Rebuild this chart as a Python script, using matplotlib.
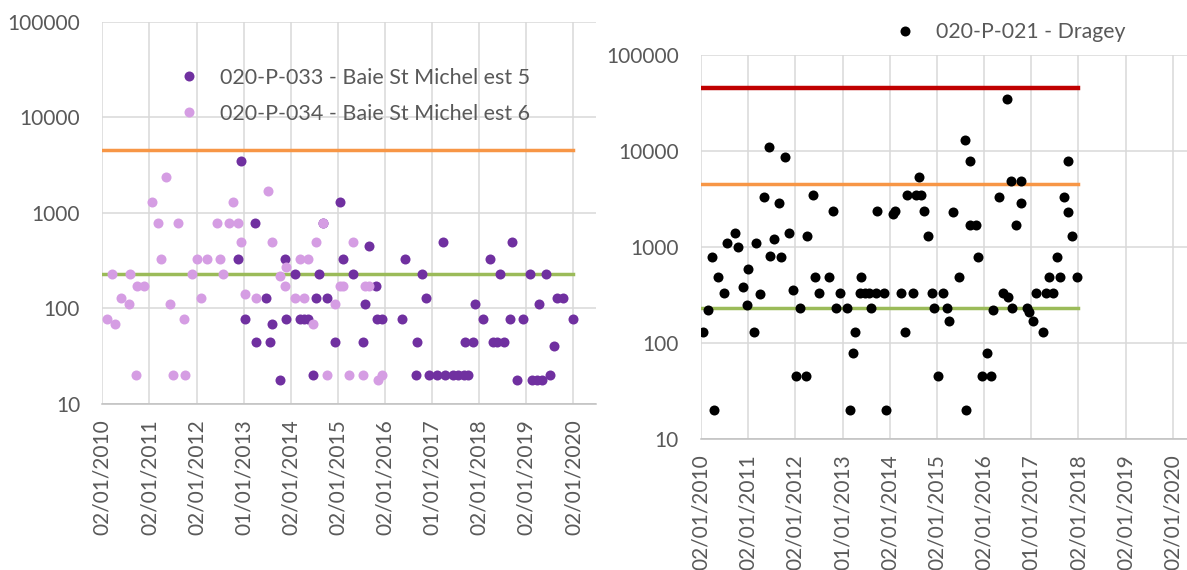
import matplotlib
matplotlib.use("Agg")
import matplotlib.pyplot as plt
from matplotlib.lines import Line2D

plt.rcParams['font.family'] = ['Lato', 'DejaVu Sans']

# 020-P-033 - Baie St Michel est 5 (decimal year, E. coli)
p033_dates = [2012.87, 2012.94, 2013.02, 2013.24, 2013.27, 2013.47, 2013.55, 2013.60,
              2013.77, 2013.87, 2013.91, 2014.08, 2014.20, 2014.29, 2014.37, 2014.47,
              2014.53, 2014.61, 2014.68, 2014.76, 2014.93, 2015.05, 2015.12, 2015.33,
              2015.53, 2015.58, 2015.66, 2015.82, 2015.84, 2015.94, 2016.36, 2016.42,
              2016.66, 2016.67, 2016.79, 2016.87, 2016.94, 2017.11, 2017.23, 2017.28,
              2017.45, 2017.56, 2017.67, 2017.77, 2017.69, 2017.86, 2017.92, 2018.08,
              2018.22, 2018.30, 2018.37, 2018.45, 2018.53, 2018.66, 2018.69, 2018.81,
              2018.92, 2019.07, 2019.12, 2019.22, 2019.27, 2019.34, 2019.42, 2019.50,
              2019.58, 2019.66, 2019.78, 2019.99]
p033_values = [330, 3500, 78, 790, 45, 130, 45, 68,
               18, 330, 78, 230, 78, 78, 78, 20,
               130, 230, 790, 130, 45, 1300, 330, 230,
               45, 110, 450, 170, 78, 78, 78, 330,
               20, 45, 230, 130, 20, 20, 490, 20,
               20, 20, 20, 20, 45, 45, 110, 78,
               330, 45, 45, 230, 45, 78, 490, 18,
               78, 230, 18, 18, 110, 18, 230, 20,
               40, 130, 130, 78]

# 020-P-034 - Baie St Michel est 6
p034_dates = [2010.11, 2010.20, 2010.27, 2010.40, 2010.57, 2010.59, 2010.71, 2010.74,
              2010.89, 2011.05, 2011.18, 2011.25, 2011.36, 2011.44, 2011.50, 2011.61,
              2011.73, 2011.76, 2011.90, 2012.02, 2012.09, 2012.22, 2012.43, 2012.50,
              2012.57, 2012.70, 2012.78, 2012.87, 2012.94, 2013.02, 2013.27, 2013.52,
              2013.60, 2013.77, 2013.87, 2013.91, 2014.09, 2014.20, 2014.28, 2014.37,
              2014.47, 2014.53, 2014.68, 2014.76, 2014.93, 2015.05, 2015.12, 2015.24,
              2015.33, 2015.53, 2015.58, 2015.66, 2015.85, 2015.94]
p034_values = [78, 230, 68, 130, 110, 230, 20, 170,
               170, 1300, 790, 330, 2400, 110, 20, 790,
               78, 20, 230, 330, 130, 330, 790, 330,
               230, 790, 1300, 790, 490, 140, 130, 1700,
               490, 220, 170, 270, 130, 330, 130, 330,
               68, 490, 790, 20, 110, 170, 170, 20,
               490, 20, 170, 170, 18, 20]

# 020-P-021 - Dragey
p021_dates = [2010.04, 2010.15, 2010.23, 2010.27, 2010.35, 2010.48, 2010.55, 2010.71,
              2010.79, 2010.88, 2010.97, 2011.00, 2011.12, 2011.17, 2011.24, 2011.33,
              2011.45, 2011.46, 2011.54, 2011.65, 2011.69, 2011.77, 2011.86, 2011.94,
              2012.01, 2012.10, 2012.22, 2012.24, 2012.38, 2012.41, 2012.51, 2012.71,
              2012.79, 2012.87, 2012.94, 2013.10, 2013.16, 2013.23, 2013.27, 2013.39,
              2013.37, 2013.48, 2013.55, 2013.71, 2013.88, 2013.60, 2013.74, 2013.93,
              2014.07, 2014.11, 2014.23, 2014.32, 2014.36, 2014.50, 2014.56, 2014.62,
              2014.66, 2014.72, 2014.81, 2014.90, 2014.94, 2015.02, 2015.13, 2015.21,
              2015.26, 2015.35, 2015.46, 2015.59, 2015.62, 2015.70, 2015.71, 2015.83,
              2015.87, 2015.95, 2016.06, 2016.15, 2016.19, 2016.31, 2016.40, 2016.48,
              2016.51, 2016.56, 2016.59, 2016.67, 2016.79, 2016.79, 2016.91, 2016.96,
              2017.03, 2017.11, 2017.24, 2017.32, 2017.37, 2017.45, 2017.54, 2017.61,
              2017.69, 2017.77, 2017.78, 2017.86, 2017.97]
p021_values = [130, 220, 790, 20, 490, 330, 1100, 1400,
               1000, 380, 250, 590, 130, 1100, 320, 3300,
               11000, 800, 1200, 2900, 790, 8800, 1400, 360,
               45, 230, 45, 1300, 3500, 490, 330, 490,
               2400, 230, 330, 230, 20, 78, 130, 490,
               330, 330, 330, 330, 330, 230, 2400, 20,
               2200, 2400, 330, 130, 3500, 330, 3500, 5400,
               3500, 2400, 1300, 330, 230, 45, 330, 230,
               170, 2300, 490, 13000, 20, 7900, 1700, 1700,
               790, 45, 78, 45, 220, 3300, 330, 35000,
               300, 4900, 230, 1700, 4900, 2900, 230, 210,
               170, 330, 130, 330, 490, 330, 790, 490,
               3300, 7900, 2300, 1300, 490]

# classification thresholds
seuil_a = 230
seuil_b = 4600
seuil_c = 46000

tick_years = list(range(2010, 2021))
tick_labels = ['02/01/2010', '02/01/2011', '02/01/2012', '01/01/2013', '02/01/2014',
               '02/01/2015', '02/01/2016', '01/01/2017', '02/01/2018', '02/01/2019',
               '02/01/2020']
y_ticks = [10, 100, 1000, 10000, 100000]

GRID = '#D9D9D9'
TXT = '#595959'
DARK = '#7030A0'
LIGHT = '#D59DE3'
ORANGE = '#F79646'
GREEN = '#9BBB59'
RED = '#C00000'


def style_axis(ax, xmax):
    ax.set_yscale('log')
    ax.set_ylim(10, 100000)
    ax.set_xlim(2010, xmax)
    ax.set_yticks(y_ticks)
    ax.set_yticklabels([str(v) for v in y_ticks])
    ax.minorticks_off()
    ax.set_xticks(tick_years)
    ax.set_xticklabels(tick_labels, rotation=90)
    ax.grid(True, color=GRID, linewidth=1.1)
    ax.set_axisbelow(True)
    for s in ['top', 'right', 'left']:
        ax.spines[s].set_visible(False)
    ax.spines['bottom'].set_color('#BFBFBF')
    ax.spines['bottom'].set_linewidth(1.1)
    ax.tick_params(axis='y', length=0, pad=16, labelsize=15, labelcolor=TXT)
    ax.tick_params(axis='x', length=0, pad=11, labelsize=15, labelcolor=TXT)


fig = plt.figure(figsize=(11.87, 5.70), dpi=100)

# left chart
ax1 = fig.add_axes([102.3 / 1187, 1 - 404 / 570, (596 - 102.3) / 1187, (404 - 21.7) / 570])
style_axis(ax1, 2020.48)
ax1.plot([2010, 2020], [seuil_b, seuil_b], color=ORANGE, linewidth=2.5, zorder=2)
ax1.plot([2010, 2020], [seuil_a, seuil_a], color=GREEN, linewidth=2.5, zorder=2)
ax1.scatter(p033_dates, p033_values, s=52, color=DARK, linewidths=0, zorder=3)
ax1.scatter(p034_dates, p034_values, s=52, color=LIGHT, linewidths=0, zorder=4)

h1 = [Line2D([], [], linestyle='none', marker='o', markersize=7.2, color=DARK, markeredgewidth=0),
      Line2D([], [], linestyle='none', marker='o', markersize=7.2, color=LIGHT, markeredgewidth=0)]
fig.legend(h1, ['020-P-033 - Baie St Michel est 5', '020-P-034 - Baie St Michel est 6'],
           loc='upper left', bbox_to_anchor=(178 / 1187, 1 - 68 / 570), frameon=False,
           fontsize=15.45, labelcolor=TXT, borderpad=0, borderaxespad=0,
           handlelength=1.0, handletextpad=0.95, labelspacing=0.74)

# right chart
ax2 = fig.add_axes([701 / 1187, 1 - 438.7 / 570, (1187 - 701) / 1187, (438.7 - 55.4) / 570])
style_axis(ax2, 2020.3)
ax2.plot([2010, 2018], [seuil_c, seuil_c], color=RED, linewidth=3.2, zorder=2)
ax2.plot([2010, 2018], [seuil_b, seuil_b], color=ORANGE, linewidth=2.5, zorder=2)
ax2.plot([2010, 2018], [seuil_a, seuil_a], color=GREEN, linewidth=2.5, zorder=2)
ax2.scatter(p021_dates, p021_values, s=52, color='black', linewidths=0, zorder=3)

h2 = [Line2D([], [], linestyle='none', marker='o', markersize=7.2, color='black', markeredgewidth=0)]
fig.legend(h2, ['020-P-021 - Dragey'],
           loc='upper left', bbox_to_anchor=(894 / 1187, 1 - 22 / 570), frameon=False,
           fontsize=15.3, labelcolor=TXT, borderpad=0, borderaxespad=0,
           handlelength=1.0, handletextpad=1.0)

fig.savefig('out.png', dpi=100)
